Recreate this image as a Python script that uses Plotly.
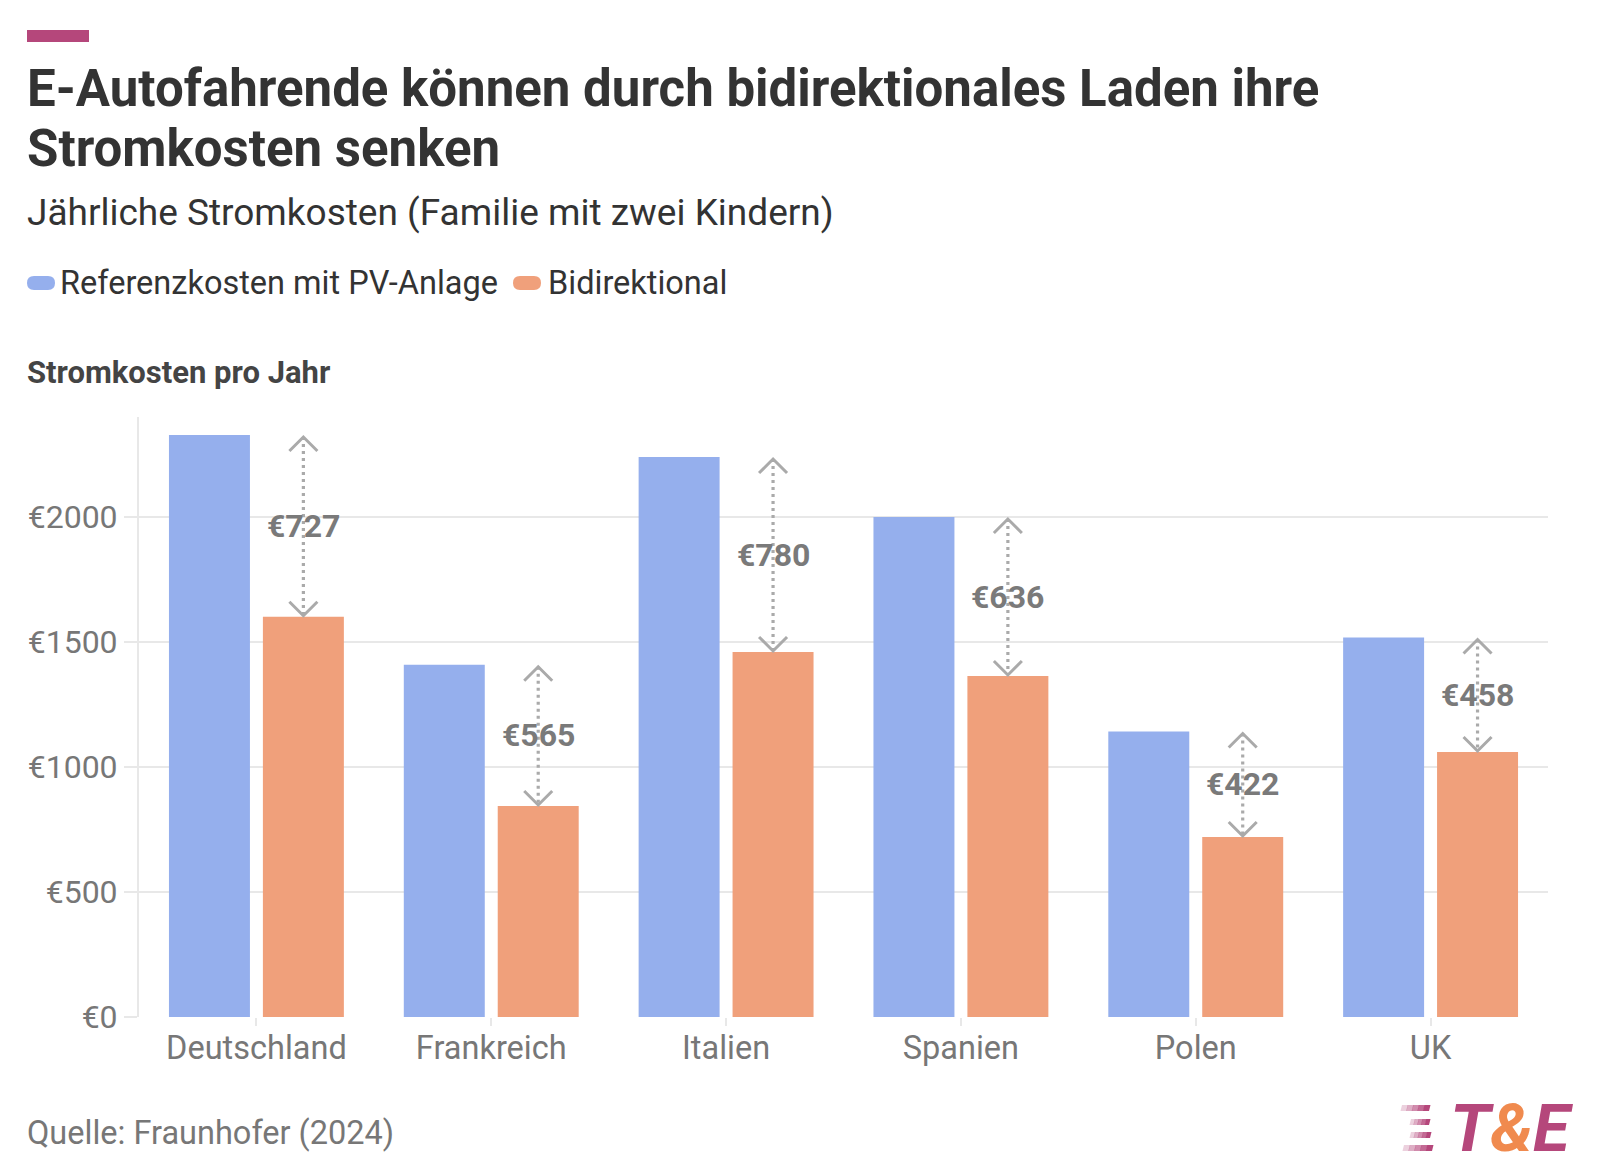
import plotly.graph_objects as go

# ---------------- data ----------------
countries = ["Deutschland", "Frankreich", "Italien", "Spanien", "Polen", "UK"]
referenz = [2328, 1409, 2240, 2000, 1142, 1518]
bidirektional = [1601, 844, 1460, 1364, 720, 1060]
ersparnis = [727, 565, 780, 636, 422, 458]
series_names = ["Referenzkosten mit PV-Anlage", "Bidirektional"]
y_tickvals = [0, 500, 1000, 1500, 2000]
y_ticktext = ["€0", "€500", "€1000", "€1500", "€2000"]

title_lines = ["E-Autofahrende können durch bidirektionales Laden ihre", "Stromkosten senken"]
subtitle = "Jährliche Stromkosten (Familie mit zwei Kindern)"
axis_title = "Stromkosten pro Jahr"
source = "Quelle: Fraunhofer (2024)"

# ---------------- style / geometry ----------------
W, H = 1600, 1166
ML, MR, MT, MB = 139, 52, 417, 149
PW = W - ML - MR
PH = H - MT - MB
YMAX = 2400
BLUE = "#95afed"
ORANGE = "#f0a07b"
GRID = "#e8e8e8"
ARROW = "#aaaaaa"
LABEL = "#7a7a7a"
DARK = "#333333"
MAGENTA = "#b5477b"

def px2x(px):
    return (px - ML) / PW

def py2y(py):
    return (H - MB - py) / PH

u_per_px_y = YMAX / PH            # data units per pixel (y)
u_per_px_x = len(countries) / PW  # data units per pixel (x)

fig = go.Figure()
xs = list(range(len(countries)))
fig.add_trace(go.Bar(x=xs, y=referenz, name=series_names[0], marker_color=BLUE,
                     marker_line_width=0, showlegend=False))
fig.add_trace(go.Bar(x=xs, y=bidirektional, name=series_names[1], marker_color=ORANGE,
                     marker_line_width=0, showlegend=False))

# arrows between bars
bargap, bargroupgap = 0.2, 0.138
slot = (1 - bargap) / 2
dx_orange = slot / 2
lx, ly, cx, cy = [], [], [], []
hw = 14 * u_per_px_x
ah = 14 * u_per_px_y
for i, (b, o) in enumerate(zip(referenz, bidirektional)):
    x = i + dx_orange
    top = b - 2 * u_per_px_y
    bot = o + 1 * u_per_px_y
    lx += [x, x, None]
    ly += [top, bot, None]
    cx += [x - hw, x, x + hw, None, x - hw, x, x + hw, None]
    cy += [top - ah, top, top - ah, None, bot + ah, bot, bot + ah, None]
fig.add_trace(go.Scatter(x=lx, y=ly, mode="lines", line=dict(color=ARROW, width=3.2, dash="3px,4px"),
                         hoverinfo="skip", showlegend=False))
fig.add_trace(go.Scatter(x=cx, y=cy, mode="lines", line=dict(color=ARROW, width=3),
                         hoverinfo="skip", showlegend=False))

annotations = []
for i, (b, o, s) in enumerate(zip(referenz, bidirektional, ersparnis)):
    annotations.append(dict(x=i + dx_orange, y=(b + o) / 2, xref="x", yref="y",
                            text=f"<b>€{s}</b>", showarrow=False,
                            font=dict(size=32, color=LABEL), xanchor="center", yanchor="middle"))

def txt(text, px, py, size, color, xanchor="left", yanchor="middle"):
    annotations.append(dict(x=px2x(px), y=py2y(py), xref="paper", yref="paper", text=text,
                            showarrow=False, font=dict(size=size, color=color),
                            xanchor=xanchor, yanchor=yanchor, xshift=0, yshift=0))

txt(f"<b>{title_lines[0]}</b>", 25, 88, 51, DARK)
txt(f"<b>{title_lines[1]}</b>", 25, 148, 51, DARK)
txt(subtitle, 25, 212, 37, DARK)
txt(series_names[0], 58, 283, 32.5, DARK)
txt(series_names[1], 546, 283, 32.5, DARK)
txt(f"<b>{axis_title}</b>", 25, 372, 31, "#444444")
txt(source, 25, 1133, 32.5, "#777777")
txt("<b><i>T<span style='color:#f08a4e'>&</span>E</i></b>", 1448, 1128, 67, MAGENTA)

shapes = []
# top accent bar
shapes.append(dict(type="rect", xref="paper", yref="paper", x0=px2x(27), x1=px2x(89),
                   y0=py2y(42), y1=py2y(30), fillcolor=MAGENTA, line_width=0))

def rounded(x0, y0, x1, y1, r, color):
    X = lambda p: px2x(p)
    Y = lambda p: py2y(p)
    path = (f"M {X(x0 + r)},{Y(y0)} L {X(x1 - r)},{Y(y0)} Q {X(x1)},{Y(y0)} {X(x1)},{Y(y0 + r)} "
            f"L {X(x1)},{Y(y1 - r)} Q {X(x1)},{Y(y1)} {X(x1 - r)},{Y(y1)} "
            f"L {X(x0 + r)},{Y(y1)} Q {X(x0)},{Y(y1)} {X(x0)},{Y(y1 - r)} "
            f"L {X(x0)},{Y(y0 + r)} Q {X(x0)},{Y(y0)} {X(x0 + r)},{Y(y0)} Z")
    return dict(type="path", xref="paper", yref="paper", path=path, fillcolor=color, line_width=0)

shapes.append(rounded(27, 276, 55, 290, 7, BLUE))
shapes.append(rounded(513, 276, 541, 290, 7, ORANGE))

# logo stripes (fading to the left)
stripes = [(1402, 1430, 1105), (1411, 1430, 1119), (1411, 1431, 1132), (1404, 1433, 1145)]
for (sx0, sx1, sy) in stripes:
    n = 5
    seg = (sx1 - sx0) / n
    for k in range(n):
        a0 = sx0 + k * seg
        a1 = a0 + seg + 0.5
        X = lambda p: px2x(p)
        Y = lambda p: py2y(p)
        path = (f"M {X(a0)},{Y(sy)} L {X(a1)},{Y(sy)} L {X(a1 - 1.5)},{Y(sy + 6)} "
                f"L {X(a0 - 1.5)},{Y(sy + 6)} Z")
        shapes.append(dict(type="path", xref="paper", yref="paper", path=path,
                           fillcolor=MAGENTA, opacity=0.25 + 0.75 * k / (n - 1), line_width=0))

fig.update_layout(
    width=W, height=H,
    margin=dict(l=ML, r=MR, t=MT, b=MB, pad=0),
    paper_bgcolor="white", plot_bgcolor="white",
    font=dict(family="Roboto", color="#777777"),
    barmode="group", bargap=bargap, bargroupgap=bargroupgap,
    annotations=annotations, shapes=shapes,
    showlegend=False,
    xaxis=dict(range=[-0.5, len(countries) - 0.5], tickvals=xs, ticktext=countries,
               showgrid=False, zeroline=False, showline=False,
               ticks="outside", ticklen=8, tickwidth=2, tickcolor=GRID,
               ticklabelstandoff=-6,
               tickfont=dict(size=32.5, color="#777777"), fixedrange=True),
    yaxis=dict(range=[0, YMAX], tickvals=y_tickvals, ticktext=y_ticktext,
               showgrid=True, gridcolor=GRID, gridwidth=2, zeroline=False,
               showline=True, linecolor=GRID, linewidth=2,
               ticks="outside", ticklen=13, tickwidth=2, tickcolor=GRID,
               tickfont=dict(size=32, color="#777777"), fixedrange=True),
)

fig.write_html("out.html")
